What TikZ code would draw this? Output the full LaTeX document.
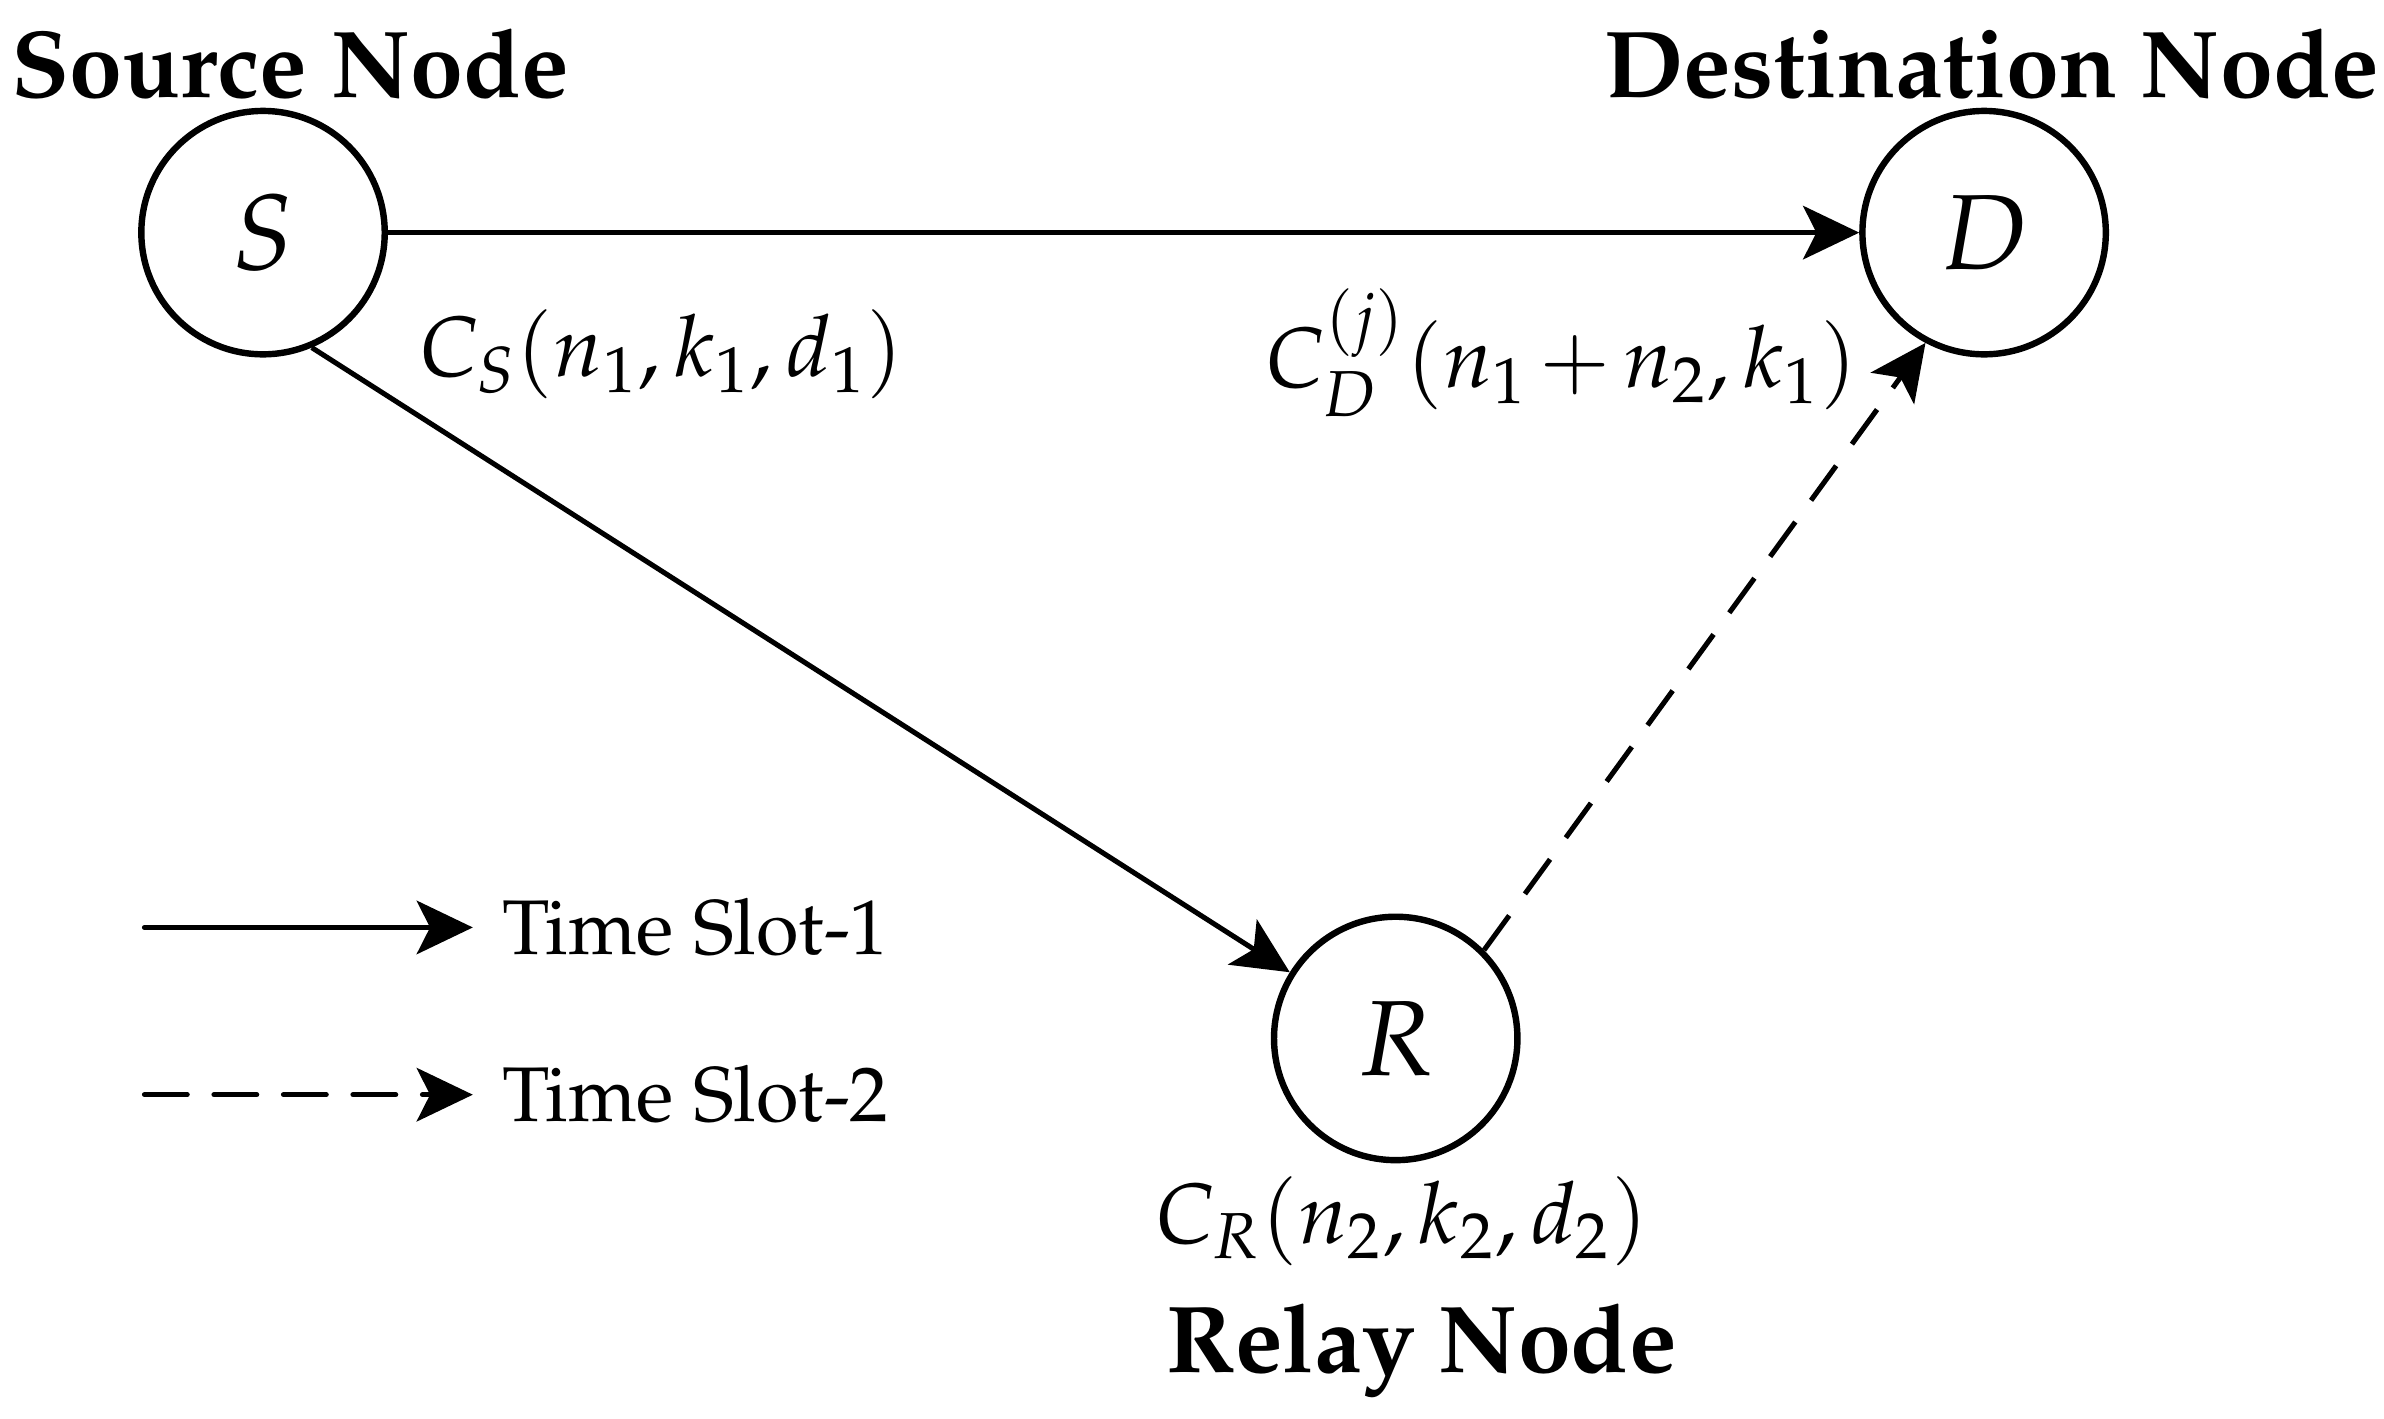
\documentclass[tikz,border=0pt]{standalone}
\usepackage[T1]{fontenc}
\usepackage{mathpazo}
\usetikzlibrary{arrows.meta}
\begin{document}
\begin{tikzpicture}[x=0.01cm,y=-0.01cm,
  nodecirc/.style={circle,draw,line width=1.2pt,minimum size=1.6cm,inner sep=0pt,font=\fontsize{20}{24}\selectfont},
  link/.style={line width=0.95pt,-{Stealth[length=10.5pt,width=10pt,inset=2.5pt]}},
  dlink/.style={link,dash pattern=on 8pt off 5pt},
  title/.style={font=\fontsize{17.8}{22}\selectfont\bfseries},
  lab/.style={font=\fontsize{16}{20}\selectfont},
  legtxt/.style={font=\fontsize{14.5}{18}\selectfont,anchor=west}]
\useasboundingbox (0,0) rectangle (1568,933);
\node[nodecirc] (S) at (173,153) {$S$};
\node[nodecirc] (D) at (1305,153) {$D$};
\node[nodecirc] (R) at (918,683) {$R$};
\node[title] (ts) at (191,42) {Source Node};
\node[title] (td) at (1310,42) {Destination Node};
\node[title] (tr) at (935,888) {Relay Node};
\node[lab] (cs) at (435,233) {$C_S(n_1,k_1,d_1)$};
\node[lab] (cd) at (1027,232) {$C_D^{(j)}(n_1\mkern-1mu+\mkern-1mu n_2,k_1)$};
\node[lab] (cr) at (922,803) {$C_R(n_2,k_2,d_2)$};
\draw[link] (S.east) -- (D.west);
\draw[link] (S.-67) -- (R.148);
\draw[dlink] (R.45) -- (D.-118);
\coordinate (l1a) at (95,610);
\coordinate (l1b) at (311,610);
\coordinate (l2a) at (95,720);
\coordinate (l2b) at (311,720);
\draw[link,line cap=round] (l1a) -- (l1b);
\draw[dlink,line cap=round] (l2a) -- (l2b);
\node[legtxt] (t1) at (318,610) {Time Slot-1};
\node[legtxt] (t2) at (318,720) {Time Slot-2};
\end{tikzpicture}
\end{document}
